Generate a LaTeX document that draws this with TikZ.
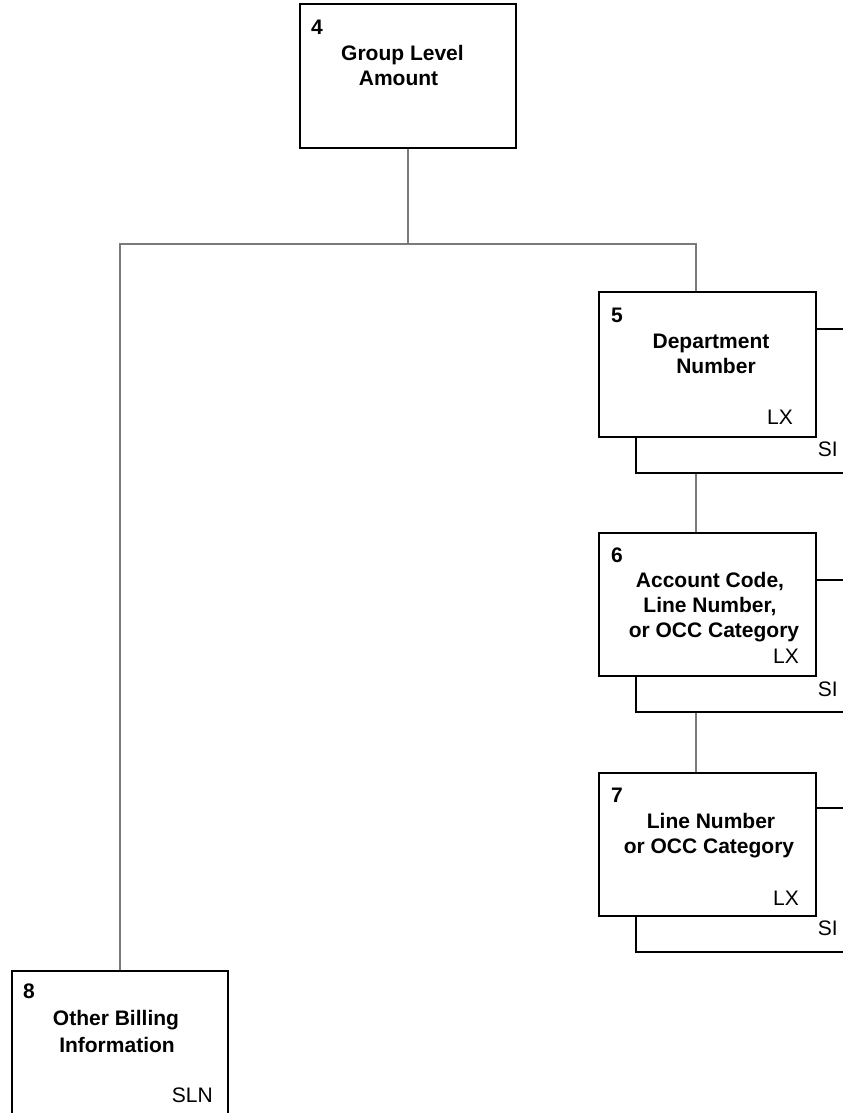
\documentclass[tikz,border=0pt]{standalone}
\usepackage{fontspec}
\setmainfont{Liberation Sans}
\begin{document}
\begin{tikzpicture}[x=1bp,y=-1bp,
  box/.style={draw=black, line width=2bp, fill=white, inner sep=0pt, minimum width=217bp, minimum height=144bp},
  tree/.style={draw=black!52, line width=1.4bp},
  brk/.style={draw=black, line width=2bp},
  lbl/.style={font=\fontsize{21bp}{25bp}\selectfont\bfseries, anchor=base, inner sep=0pt},
  num/.style={font=\fontsize{21bp}{25bp}\selectfont\bfseries, anchor=base west, inner sep=0pt},
  tag/.style={font=\fontsize{21bp}{25bp}\selectfont, anchor=base east, inner sep=0pt}]
\useasboundingbox (0,0) rectangle (843,1113);
\clip (0,0) rectangle (843,1113);
\fill[white] (0,0) rectangle (843,1113);

% boxes
\node[box, minimum width=216bp] (b4) at (408,76) {};
\node[box, minimum height=145bp] (b5) at (707.5,364.5) {};
\node[box, minimum height=143bp] (b6) at (707.5,604.5) {};
\node[box, minimum height=143bp] (b7) at (707.5,844.5) {};
\node[box, minimum width=216bp] (b8) at (120,1043) {};

% coordinates for free ends
\coordinate (j4) at (408,244);
\coordinate (h5) at (696,244);
\coordinate (r5) at (843,329);
\coordinate (r6) at (843,580);
\coordinate (r7) at (843,808);
\coordinate (k5) at (636,473);
\coordinate (k6) at (636,712);
\coordinate (k7) at (636,952);
\coordinate (s5) at (843,473);
\coordinate (s6) at (843,712);
\coordinate (s7) at (843,952);
\coordinate (v5) at (696,473);
\coordinate (v6) at (696,712);

% tree connectors
\draw[tree] (b4.south) -- (j4);
\draw[tree] (b8.north) |- (h5) -- (h5 |- b5.north);
\draw[tree] (v5) -- (v5 |- b6.north);
\draw[tree] (v6) -- (v6 |- b7.north);

% right-side lines and brackets
\draw[brk] (b5.east |- r5) -- (r5);
\draw[brk] (b6.east |- r6) -- (r6);
\draw[brk] (b7.east |- r7) -- (r7);
\draw[brk] (k5 |- b5.south) -- (k5) -- (s5);
\draw[brk] (k6 |- b6.south) -- (k6) -- (s6);
\draw[brk] (k7 |- b7.south) -- (k7) -- (s7);

% texts box 4
\node[num] (n4) at (311,34) {4};
\node[lbl] (t4a) at (402.5,60) {Group Level};
\node[lbl] (t4b) at (398.5,85) {Amount};

% box 5
\node[num] (n5) at (611,322) {5};
\node[lbl] (t5a) at (711,348) {Department};
\node[lbl] (t5b) at (716,373) {Number};
\node[tag] (x5) at (793,424) {LX};
\node[tag] (i5) at (838,456) {SI};

% box 6
\node[num] (n6) at (611,562) {6};
\node[lbl] (t6a) at (710,587) {Account Code,};
\node[lbl] (t6b) at (710,612) {Line Number,};
\node[lbl] (t6c) at (714,637) {or OCC Category};
\node[tag] (x6) at (799,663) {LX};
\node[tag] (i6) at (838,696) {SI};

% box 7
\node[num] (n7) at (611,802) {7};
\node[lbl] (t7a) at (711,828) {Line Number};
\node[lbl] (t7b) at (709,853) {or OCC Category};
\node[tag] (x7) at (799,905) {LX};
\node[tag] (i7) at (838,935) {SI};

% box 8
\node[num] (n8) at (23,998) {8};
\node[lbl] (t8a) at (116,1025) {Other Billing};
\node[lbl] (t8b) at (117,1052) {Information};
\node[tag] (x8) at (213,1102) {SLN};
\end{tikzpicture}
\end{document}
